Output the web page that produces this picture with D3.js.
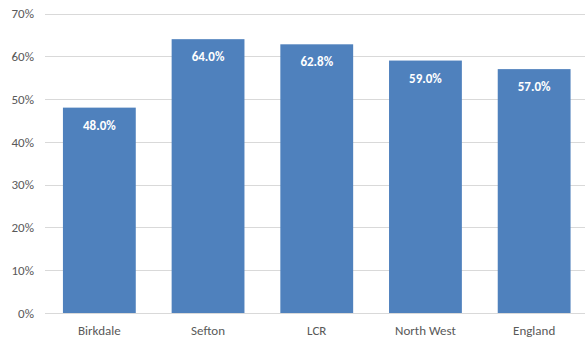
<!DOCTYPE html>
<html><head><meta charset="utf-8">
<script src="https://cdn.jsdelivr.net/npm/d3@7"></script>
<style>body{margin:0;background:#fff;}svg{display:block;}</style>
</head><body>
<svg id="c" width="585" height="340"></svg>
<script>
const categories = ["Birkdale", "Sefton", "LCR", "North West", "England"];
const values = [48.0, 64.0, 62.8, 59.0, 57.0];
const yTicks = [0, 10, 20, 30, 40, 50, 60, 70];

const svg = d3.select("#c");
const font = "Carlito, 'Open Sans', 'Liberation Sans', sans-serif";
const x = d3.scaleBand().domain(categories).range([45, 588.5]).paddingInner(0.33).paddingOuter(0.165);
const y = d3.scaleLinear().domain([0, 70]).range([313, 13.5]);

const yAxis = d3.axisLeft(y).tickValues(yTicks).tickFormat(d => d + "%").tickSize(0).tickPadding(0);
const gy = svg.append("g").attr("transform", "translate(34,0)").call(yAxis);
gy.select(".domain").remove();
gy.selectAll("text").attr("fill", "#595959").style("font-family", font).style("font-size", "13px");

svg.append("g").selectAll("line").data(yTicks).join("line")
  .attr("x1", 45).attr("x2", 585)
  .attr("y1", d => Math.round(y(d)) + 0.5).attr("y2", d => Math.round(y(d)) + 0.5)
  .attr("stroke", "#d9d9d9").attr("stroke-width", 1);

svg.append("g").selectAll("rect").data(values).join("rect")
  .attr("x", (d, i) => x(categories[i]))
  .attr("width", x.bandwidth())
  .attr("y", d => y(d))
  .attr("height", d => y(0) - y(d))
  .attr("fill", "#4F81BD");

svg.append("g").selectAll("text").data(values).join("text")
  .attr("x", (d, i) => x(categories[i]) + x.bandwidth() / 2)
  .attr("y", d => y(d) + 22)
  .attr("text-anchor", "middle")
  .attr("fill", "#fff")
  .style("font-family", font).style("font-size", "13px").style("font-weight", "bold")
  .text(d => d.toFixed(1) + "%");

const xAxis = d3.axisBottom(x).tickSize(0).tickPadding(0);
const gx = svg.append("g").attr("transform", "translate(0,326)").call(xAxis);
gx.select(".domain").remove();
gx.selectAll("text").attr("fill", "#595959").attr("dy", "0.71em").style("font-family", font).style("font-size", "13px");
</script>
</body></html>
